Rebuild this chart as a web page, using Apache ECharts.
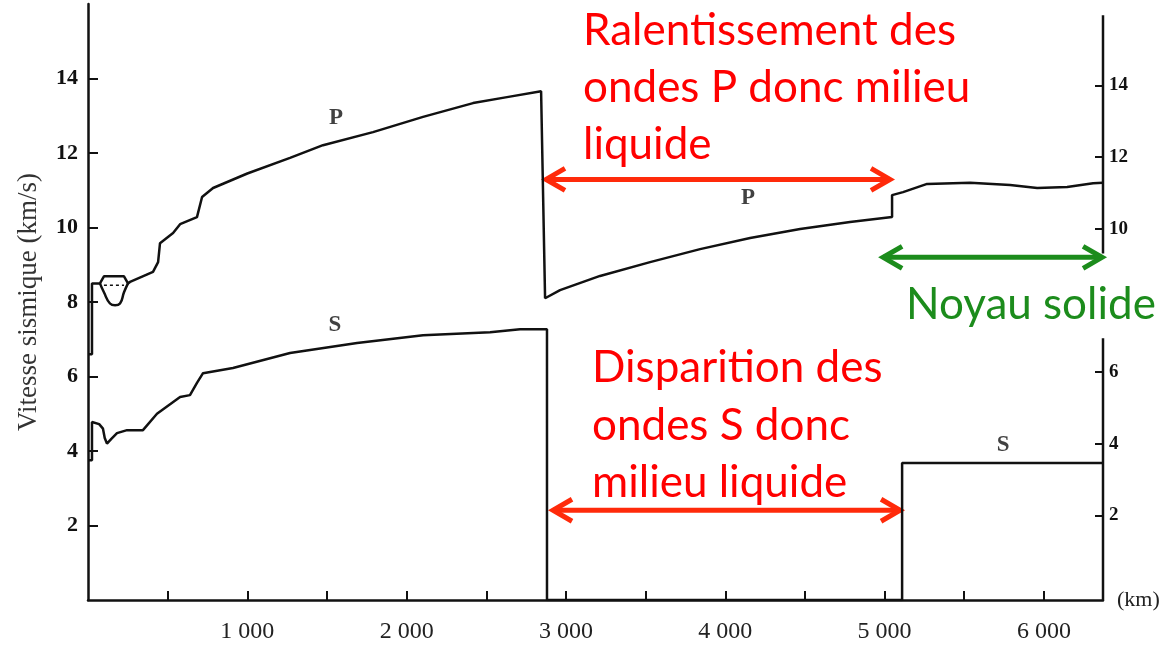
<!DOCTYPE html>
<html>
<head>
<meta charset="utf-8">
<script src="https://cdn.jsdelivr.net/npm/echarts@6/dist/echarts.min.js"></script>
<style>
  html, body { margin: 0; padding: 0; background: #fff; }
  #chart { width: 1167px; height: 645px; }
</style>
</head>
<body>
<div id="chart"></div>
<script>
// depth (km) / velocity (km/s)
const pWave = [
  [0, 6.6], [25, 6.6], [25, 8.5], [75, 8.5], [100, 8.69], [226, 8.69], [251, 8.5],
  [264, 8.54], [408, 8.81], [440, 9.07], [452, 9.58], [534, 9.85], [578, 10.09],
  [684, 10.28], [716, 10.82], [785, 11.06], [1000, 11.45], [1268, 11.87], [1475, 12.21],
  [1789, 12.56], [2103, 12.97], [2417, 13.34], [2630, 13.5], [2844, 13.66],
  [2869, 8.1], [2963, 8.32], [3214, 8.7], [3528, 9.07], [3842, 9.42], [4156, 9.72],
  [4470, 9.96], [4783, 10.15], [5047, 10.28],
  [5047, 10.87], [5116, 10.95], [5267, 11.17], [5537, 11.2], [5788, 11.14],
  [5958, 11.06], [6146, 11.09], [6309, 11.19], [6371, 11.2]
]
// low velocity zone drawn under the P curve
const pBowl = [[75, 8.5], [100, 8.26], [138, 7.96], [170, 7.91], [201, 7.96], [226, 8.26], [251, 8.5]]
const pDashed = [[100, 8.45], [226, 8.45]]

const sWave = [
  [0, 3.75], [25, 3.75], [25, 4.78], [70, 4.72], [94, 4.6], [105, 4.35], [119, 4.2],
  [145, 4.32], [182, 4.48], [245, 4.56], [345, 4.56], [433, 5.0], [578, 5.45],
  [640, 5.5], [684, 5.83], [722, 6.09], [910, 6.23], [1268, 6.63], [1689, 6.9],
  [2103, 7.11], [2524, 7.19], [2712, 7.27], [2881, 7.27], [2881, 0],
  [5110, 0], [5110, 3.68], [6371, 3.68]
]

const curveLabels = [
  [1557, 12.95, 'P'], [4143, 10.78, 'P'], [1550, 7.37, 'S'], [5744, 4.16, 'S']
]

const xTicks = [500, 1000, 1500, 2000, 2500, 3000, 3500, 4000, 4500, 5000, 5500, 6000]
const xLabels = [1000, 2000, 3000, 4000, 5000, 6000]
const leftTicks = [2, 4, 6, 8, 10, 12, 14]
const rightTicks = [2, 4, 6, 10, 12, 14]
// the right frame line is broken where the green note sits
const rightFrame = [[6371, 0], [6371, 7.03], null, [6371, 9.3], [6371, 15.7]]

const ink = '#111'
const serif = '"Liberation Serif", "DejaVu Serif", serif'

const chart = echarts.init(document.getElementById('chart'), null, { renderer: 'canvas' })

chart.setOption({
  animation: false,
  backgroundColor: '#fff',
  grid: { left: 88, right: 64, top: 4, bottom: 45 },
  xAxis: {
    type: 'value', min: 0, max: 6371,
    name: '(km)', nameLocation: 'end', nameGap: 14,
    nameTextStyle: { fontFamily: serif, fontSize: 22, color: '#222', padding: [28, 0, 0, 0] },
    axisLine: { lineStyle: { color: ink, width: 2.5 } },
    axisTick: { inside: true, length: 9, customValues: xTicks, lineStyle: { color: ink, width: 2 } },
    axisLabel: {
      customValues: xLabels, margin: 20,
      formatter: v => (v / 1000) + ' 000',
      fontFamily: serif, fontSize: 24, color: '#222'
    },
    splitLine: { show: false }
  },
  yAxis: [{
    type: 'value', min: 0, max: 16, position: 'left',
    name: 'Vitesse sismique (km/s)', nameLocation: 'middle', nameGap: 46,
    nameTextStyle: { fontFamily: serif, fontSize: 27, color: '#333' },
    axisLine: { show: true, lineStyle: { color: ink, width: 2.5 } },
    axisTick: { inside: true, length: 10, customValues: leftTicks, lineStyle: { color: ink, width: 2 } },
    axisLabel: { customValues: leftTicks, margin: 10, fontFamily: serif, fontSize: 22, fontWeight: 'bold', color: ink },
    splitLine: { show: false }
  }, {
    type: 'value', min: -0.36, max: 16.27, position: 'right',
    axisLine: { show: false },
    axisTick: { show: true, inside: true, length: 8, customValues: rightTicks, lineStyle: { color: ink, width: 2 } },
    axisLabel: { customValues: rightTicks, margin: 6, fontFamily: serif, fontSize: 19, fontWeight: 'bold', color: ink },
    splitLine: { show: false }
  }],
  series: [
    { type: 'line', data: pWave, symbol: 'none', lineStyle: { color: ink, width: 2.5 }, z: 3 },
    { type: 'line', data: pBowl, symbol: 'none', smooth: 0.5, lineStyle: { color: ink, width: 2.5 } },
    { type: 'line', data: pDashed, symbol: 'none', lineStyle: { color: ink, width: 1.5, type: [3, 3] } },
    { type: 'line', data: sWave, symbol: 'none', lineStyle: { color: ink, width: 2.5 }, z: 3 },
    { type: 'line', data: rightFrame, symbol: 'none', connectNulls: false, lineStyle: { color: ink, width: 2.5 } },
    {
      type: 'scatter', data: curveLabels, symbolSize: 0,
      label: {
        show: true, position: 'inside', formatter: p => p.data[2],
        fontFamily: serif, fontSize: 23, fontWeight: 'bold', color: ink
      }
    }
  ]
})

// annotations: double arrows in data units, text blocks in pixels (y = baseline)
const arrows = [
  { from: 2856, to: 5053, level: 11.29, color: '#FF2A0A' },
  { from: 2900, to: 5116, level: 2.41, color: '#FF2A0A' },
  { from: 4972, to: 6384, level: 9.2, color: '#1C8C1C' }
]
const notes = [
  { x: 583, y: 47, text: 'Ralentissement des', color: '#FF0000' },
  { x: 583, y: 104, text: 'ondes P donc milieu', color: '#FF0000' },
  { x: 583, y: 161, text: 'liquide', color: '#FF0000' },
  { x: 592, y: 384, text: 'Disparition des', color: '#FF0000' },
  { x: 592, y: 442, text: 'ondes S donc', color: '#FF0000' },
  { x: 592, y: 499, text: 'milieu liquide', color: '#FF0000' },
  { x: 906, y: 321, text: 'Noyau solide', color: '#1C8C1C' }
]
const noteSize = 44

const elements = []
arrows.forEach(a => {
  const p1 = chart.convertToPixel({ xAxisIndex: 0, yAxisIndex: 0 }, [a.from, a.level])
  const p2 = chart.convertToPixel({ xAxisIndex: 0, yAxisIndex: 0 }, [a.to, a.level])
  const st = { stroke: a.color, lineWidth: 5, fill: null, lineJoin: 'miter' }
  const y = p1[1]
  elements.push({ type: 'polyline', shape: { points: [[p1[0] + 3, y], [p2[0] - 3, y]] }, style: st })
  elements.push({ type: 'polyline', shape: { points: [[p1[0] + 22, y - 11], [p1[0] + 3, y], [p1[0] + 22, y + 11]] }, style: st })
  elements.push({ type: 'polyline', shape: { points: [[p2[0] - 22, y - 11], [p2[0] - 3, y], [p2[0] - 22, y + 11]] }, style: st })
})
notes.forEach(n => {
  elements.push({
    type: 'text', x: n.x, y: n.y - Math.round(noteSize * 0.86),
    style: { text: n.text, fill: n.color, font: noteSize + 'px Lato, "Open Sans", sans-serif' }
  })
})
chart.setOption({ graphic: elements })
</script>
</body>
</html>
